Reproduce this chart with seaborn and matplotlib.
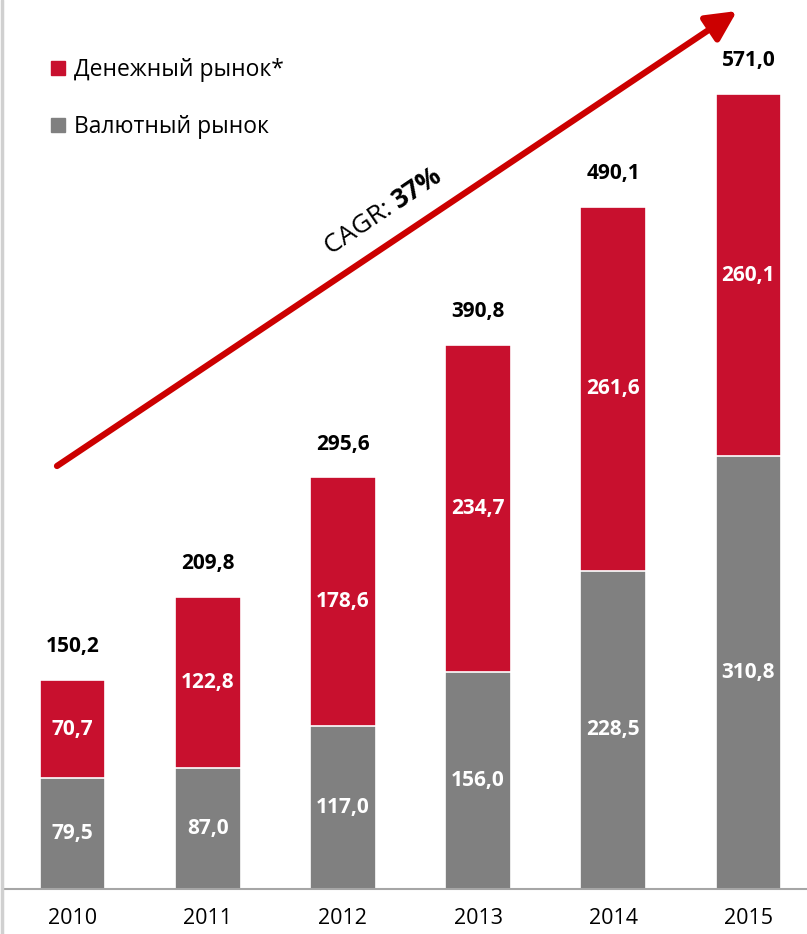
import matplotlib
matplotlib.use("Agg")
import matplotlib.pyplot as plt
from matplotlib.lines import Line2D
from matplotlib.patches import FancyArrowPatch
import seaborn as sns
import pandas as pd

years = ["2010", "2011", "2012", "2013", "2014", "2015"]
fx_market = [79.5, 87.0, 117.0, 156.0, 228.5, 310.8]
money_market = [70.7, 122.8, 178.6, 234.7, 261.6, 260.1]
totals = [150.2, 209.8, 295.6, 390.8, 490.1, 571.0]
series_names = ["Денежный рынок*", "Валютный рынок"]
cagr_label = "37%"

RED = "#C8102E"
GREY = "#808080"
ARROW = "#CC0000"

sns.set_theme(style="white")
plt.rcParams["font.family"] = ["Open Sans", "DejaVu Sans"]
plt.rcParams["text.color"] = "black"

df = pd.DataFrame({"year": years, "fx": fx_market, "money": money_market, "total": totals})

fig = plt.figure(figsize=(8.07, 9.34), dpi=100)
W, H = 807, 934
ax = fig.add_axes([5 / W, 45 / H, 811 / W, 889 / H])

# full stack height in red, foreign-exchange part laid over it in grey
sns.barplot(data=df, x="year", y="total", color=RED, width=0.485, saturation=1,
            edgecolor="white", linewidth=1.2, ax=ax)
sns.barplot(data=df, x="year", y="fx", color=GREY, width=0.485, saturation=1,
            edgecolor="white", linewidth=1.2, ax=ax)

ax.set_xlim(-0.5, 5.5)
ax.set_ylim(0, 638.6)
ax.set_xlabel("")
ax.set_ylabel("")
ax.set_yticks([])
for s in ["top", "right", "left"]:
    ax.spines[s].set_visible(False)
ax.spines["bottom"].set_color("#A6A6A6")
ax.spines["bottom"].set_linewidth(1.5)
ax.tick_params(axis="x", length=0, pad=14, labelsize=15.5, colors="black")

fmt = lambda v: f"{v:.1f}".replace(".", ",")
for i in range(len(years)):
    ax.text(i, fx_market[i] / 2, fmt(fx_market[i]),
            ha="center", va="center", color="white", fontsize=15, fontweight="bold")
    ax.text(i, fx_market[i] + money_market[i] / 2, fmt(money_market[i]),
            ha="center", va="center", color="white", fontsize=15, fontweight="bold")
    ax.text(i, totals[i] + 24, fmt(totals[i]),
            ha="center", va="center", color="black", fontsize=15, fontweight="bold")

# growth arrow and CAGR annotation (figure pixel coordinates)
def px(x, y):
    return (x / W, 1 - y / H)

fig.add_artist(FancyArrowPatch(
    px(57, 466), px(737, 11), transform=fig.transFigure,
    arrowstyle="-|>,head_length=7,head_width=3.5", mutation_scale=2.6,
    color=ARROW, linewidth=4.5, shrinkA=0, shrinkB=0))
fig.text(*px(399, 209), "CAGR: ", rotation=34, rotation_mode="anchor",
         ha="right", va="baseline", fontsize=19, color="black")
fig.text(*px(399, 209), cagr_label, rotation=34, rotation_mode="anchor",
         ha="left", va="baseline", fontsize=19, fontweight="bold", color="black")

# legend
handles = [Line2D([], [], marker="s", linestyle="none", markersize=10, color=RED),
           Line2D([], [], marker="s", linestyle="none", markersize=10, color=GREY)]
leg = fig.legend(handles, series_names, loc="upper left", bbox_to_anchor=px(47, 58),
                 frameon=False, fontsize=16.5, labelspacing=1.45, handletextpad=0.2,
                 handlelength=1.0, borderaxespad=0, borderpad=0, labelcolor="black")

# light frame line on the left edge
fig.add_artist(Line2D([1.5 / W, 1.5 / W], [0, 1], transform=fig.transFigure,
                      color="#D0D0D0", linewidth=2.5))

fig.savefig("out.png", dpi=100)
